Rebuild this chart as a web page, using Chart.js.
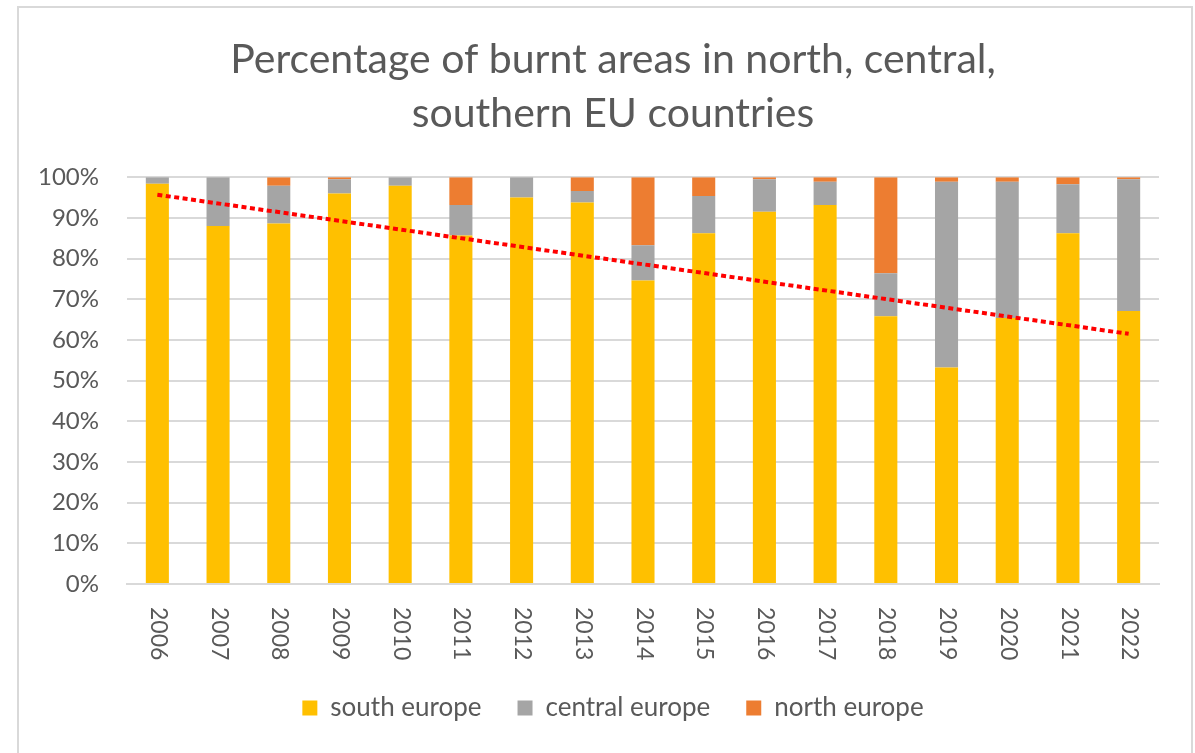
<!DOCTYPE html>
<html>
<head>
<meta charset="utf-8">
<script src="https://cdn.jsdelivr.net/npm/chart.js@4.4.0/dist/chart.umd.min.js"></script>
<style>
  body { margin: 0; background: #ffffff; }
  #frame {
    position: absolute; left: 17px; top: 6px;
    width: 1172px; height: 800px;
    border: 2px solid #d9d9d9;
  }
  #wrap { position: absolute; left: 0; top: 0; width: 1195px; height: 753px; }
</style>
</head>
<body>
<div id="frame"></div>
<div id="wrap"><canvas id="chart" width="1195" height="753"></canvas></div>
<script>
// años
const years = ['2006', '2007', '2008', '2009', '2010', '2011', '2012', '2013', '2014',
    '2015', '2016', '2017', '2018', '2019', '2020', '2021', '2022'];

// porcentajes
const southEurope = [98.4, 88.0, 88.6, 96.0, 97.9, 85.7, 95.0, 93.8, 74.6,
    86.2, 91.5, 93.2, 65.8, 53.2, 65.4, 86.2, 67.1];
const centralEurope = [1.6, 12.0, 9.3, 3.5, 2.1, 7.5, 5.0, 2.8, 8.7,
    9.2, 8.0, 5.7, 10.6, 45.7, 33.5, 12.1, 32.4];
const northEurope = [0, 0, 2.1, 0.5, 0, 6.8, 0, 3.4, 16.7,
    4.6, 0.5, 1.1, 23.6, 1.1, 1.1, 1.7, 0.5];

// linea de tendencia: solo los extremos, el resto se une con spanGaps
const trendLine = [95.7, null, null, null, null, null, null, null, null,
    null, null, null, null, null, null, null, 61.5];

// eje y: 0% a 100% cada 10
const yMin = 0;
const yMax = 100;
const yStep = 10;

const SOUTH_COLOR = '#ffc000';
const CENTRAL_COLOR = '#a5a5a5';
const NORTH_COLOR = '#ed7d31';
const TEXT_COLOR = '#595959';
const FONT = 'Lato';

// etiquetas del eje x giradas 90 grados en sentido horario (como excel)
const rotatedLabels = {
    id: 'rotatedLabels',
    afterDraw(chart) {
        const xScale = chart.scales.x;
        const ctx = chart.ctx;
        ctx.save();
        ctx.fillStyle = TEXT_COLOR;
        ctx.font = '23px ' + FONT;
        ctx.textAlign = 'left';
        ctx.textBaseline = 'middle';
        years.forEach((year, i) => {
            const x = xScale.getPixelForTick(i);
            ctx.save();
            ctx.translate(x + 1, chart.chartArea.bottom + 23);
            ctx.rotate(Math.PI / 2);
            ctx.fillText(year, 0, 0);
            ctx.restore();
        });
        ctx.restore();
    }
};

const config = {
    type: 'bar',
    data: {
        labels: years,
        datasets: [
            {
                label: 'south europe',
                data: southEurope,
                backgroundColor: SOUTH_COLOR,
                stack: 'eu',
                order: 1
            }, {
                label: 'central europe',
                data: centralEurope,
                backgroundColor: CENTRAL_COLOR,
                stack: 'eu',
                order: 1
            }, {
                label: 'north europe',
                data: northEurope,
                backgroundColor: NORTH_COLOR,
                stack: 'eu',
                order: 1
            }, {
                type: 'line',
                label: 'trend',
                data: trendLine,
                borderColor: '#ff0000',
                borderWidth: 4,
                borderDash: [5, 3.5],
                pointRadius: 0,
                spanGaps: true,
                fill: false,
                stack: 'trend',
                order: 0
            }
        ]
    },
    options: {
        responsive: false,
        animation: false,
        layout: {
            padding: { left: 31, right: 0, top: 0, bottom: 22 }
        },
        datasets: {
            bar: { categoryPercentage: 1, barPercentage: 0.38 }
        },
        plugins: {
            title: {
                display: true,
                text: ['Percentage of burnt areas in north, central,', 'southern EU countries'],
                color: TEXT_COLOR,
                font: { family: FONT, size: 41, weight: 'normal', lineHeight: 1.32 },
                padding: { top: 33, bottom: 36 }
            },
            legend: {
                position: 'bottom',
                labels: {
                    color: TEXT_COLOR,
                    font: { family: FONT, size: 26 },
                    boxWidth: 15,
                    boxHeight: 15,
                    padding: 36,
                    filter: item => item.text !== 'trend'
                }
            },
            tooltip: { enabled: false }
        },
        scales: {
            x: {
                stacked: true,
                grid: { display: false, drawTicks: false },
                border: { color: '#d9d9d9', width: 2 },
                ticks: { display: false },
                afterFit: scale => { scale.height = 75; }
            },
            y: {
                stacked: true,
                min: yMin,
                max: yMax,
                afterFit: scale => { scale.width = 96; },
                grid: { color: '#d9d9d9', lineWidth: 2, drawTicks: false },
                border: { display: false },
                ticks: {
                    stepSize: yStep,
                    color: TEXT_COLOR,
                    font: { family: FONT, size: 24 },
                    padding: 28,
                    callback: value => value + '%'
                }
            },
            // eje vacio a la derecha, solo para dejar el margen como en el original
            yRight: {
                position: 'right',
                min: yMin,
                max: yMax,
                grid: { display: false, drawTicks: false },
                border: { display: false },
                ticks: { display: false },
                afterFit: scale => { scale.width = 36; }
            }
        }
    },
    plugins: [rotatedLabels]
};

new Chart(document.getElementById('chart').getContext('2d'), config);
</script>
</body>
</html>
